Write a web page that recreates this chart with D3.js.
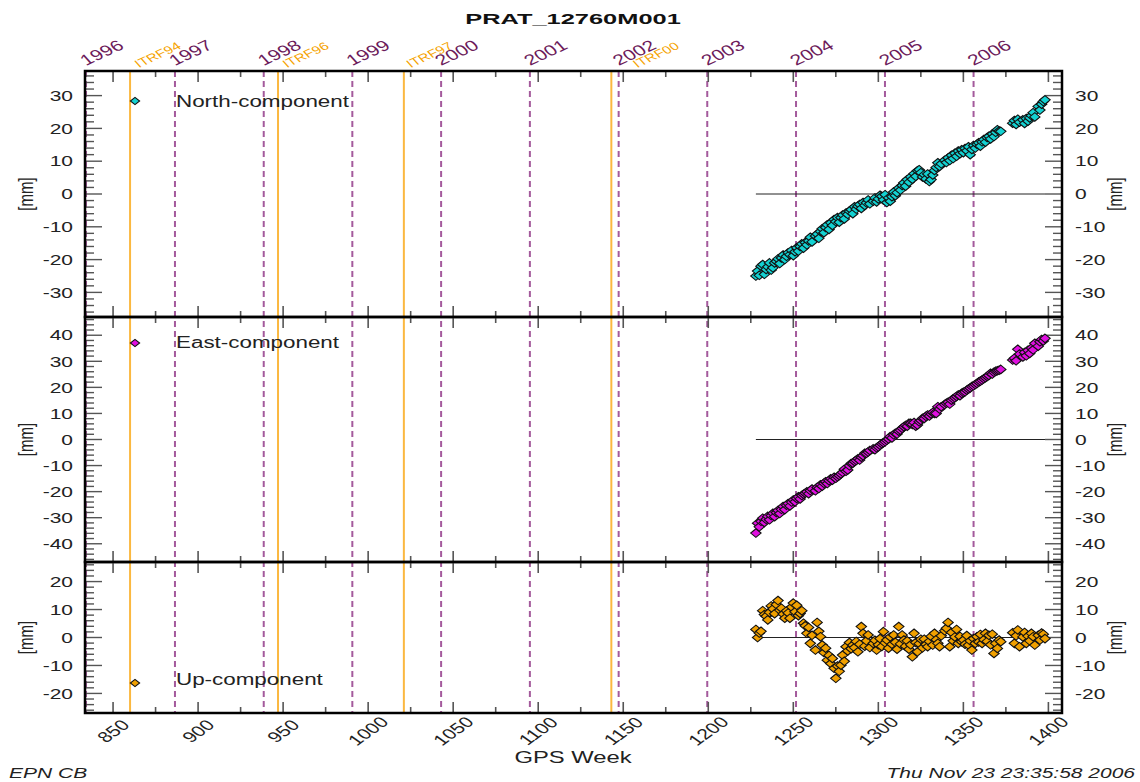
<!DOCTYPE html>
<html>
<head>
<meta charset="utf-8">
<script src="https://cdn.jsdelivr.net/npm/d3@7"></script>
<style>
  body { margin: 0; background: #fff; }
  svg { display: block; }
  text { font-family: "Liberation Sans", Arial, Helvetica, sans-serif; }
</style>
</head>
<body>
<div id="plot"></div>
<script>
// GPS weeks of the solutions (a few weeks missing, gap before the last block)
const weeks = [
  1228,1229,1230,1231,1232,1233,1234,1235,1236,1237,1238,1239,1240,1241,1242,1243,1244,
  1245,1246,1247,1248,1249,1250,1251,1252,1253,1254,1255,1256,1257,1258,1259,1260,1261,
  1263,1264,1265,1266,1267,1268,1269,1270,1271,1272,1273,1274,1275,1276,1277,1278,1279,
  1280,1281,1282,1283,1284,1285,1286,1287,1288,1289,1290,1291,1292,1293,1294,1295,
  1297,1298,1299,1300,1301,1302,1303,1304,1305,1306,1307,1308,1309,1310,1311,1312,1313,
  1314,1315,1316,1317,1318,1319,1320,1321,1322,1323,1324,1325,1326,1327,1328,1329,1330,
  1331,1332,1333,1334,1335,1336,1337,
  1339,1340,1341,1342,1343,1344,1345,1346,1347,1348,1349,1350,1351,1352,1353,1354,1355,
  1356,1357,1358,1359,1360,1361,1362,1363,1364,1365,1366,1367,1368,1369,1370,1371,1372,
  1379,1380,1381,1382,1383,1385,1386,1387,1388,1389,1390,1391,1392,1394,1395,1396,1397,1398
];

// North component [mm]
const north = [
  -25, -23.5, -24.8, -22, -21.5, -24.5, -23, -22.2, -21, -23.2,
  -22.5, -21, -20.5, -19.8, -21.2, -19.5, -18.6, -20, -19, -17.9,
  -18.5, -17.2, -18.8, -17.6, -16.4, -17.4, -16, -15.2, -16.5, -14.8,
  -15.5, -14.3, -13.2, -14.6, -12.8, -12.2, -13.5, -11.4, -10.6, -11.8,
  -10.2, -9.4, -10.8, -8.8, -9.6, -7.8, -8.4, -7.2, -8.6, -7.2,
  -6.4, -7.6, -5.8, -6.2, -5.2, -4.8, -6, -3.9, -4.6, -3.7,
  -3.2, -4.4, -2.6, -3.5, -2.7, -1.8, -3, -2.2, -1.2, -2.4,
  -1.5, -0.4, -0.7, -1.8, -0.2, -2.6, -1.2, -2.2, -0.8, 0.6,
  -0.5, 0.4, 1.8, 1.2, 2.6, 3.4, 2.4, 4.4, 3.6, 5.2,
  4.5, 6.2, 5.4, 7.1, 7.4, 6.5, 5.2, 5.9, 4.6, 6.1,
  3.8, 4.4, 5.8, 7.2, 8.1, 9.5, 8.4, 9.2, 10.3, 9.6,
  11, 10.2, 11.8, 10.8, 12.4, 11.5, 13.1, 12.3, 13.5, 12.6,
  13.9, 13.2, 14.4, 12, 13.6, 14.8, 14, 15.2, 15.6, 14.6,
  15.9, 16.6, 15.8, 17.2, 17.6, 16.8, 18.3, 17.5, 18.8, 19.6,
  19.2, 19.1,
  21.6, 22.4, 21.2, 22.8, 21.9, 22.6, 21.5, 23, 22.2, 23.2,
  23.9, 24.8, 23.5, 26.7, 25.6, 27.4, 28.2, 28.7
];

// East component [mm]
const east = [
  -35.9, -32.1, -33.5, -31.4, -30.2, -31.8, -30.6, -29.5, -30.8, -29.2,
  -28.3, -29.6, -28, -27.2, -28.4, -26.8, -25.7, -26.9, -25.2, -24.6,
  -25.5, -24, -23.2, -23.9, -22.6, -22, -22.8, -21.5, -21, -20.6,
  -20.1, -20.8, -19.6, -19, -19.7, -18.4, -18.8, -17.4, -17.9, -16.8,
  -16.2, -16.9, -15.8, -15.1, -15.6, -14.5, -14.9, -14.3, -13.8, -13.2,
  -12.6, -11.4, -12.2, -11.7, -10.1, -9.2, -9.1, -8.4, -8, -7.4,
  -7.9, -6.8, -6.2, -5.3, -5.3, -4.8, -4.2, -3.6, -3.9, -3.2,
  -2.8, -2.2, -1.6, -1.2, -0.8, -0.3, 0.2, 1.1, 0.6, 1.8,
  2.4, 2.1, 3.2, 3.6, 4.3, 4.9, 5.4, 5.1, 6.2, 6.2,
  5.8, 6.5, 5.1, 5.6, 6.8, 7.3, 8.1, 8.1, 8.9, 9.4,
  9, 9.8, 10.4, 10, 10, 12.6, 11.7, 12.6, 13.4, 13.9,
  14.3, 13.6, 15.1, 15.6, 16, 16.5, 17.1, 16.8, 17.7, 18.1,
  18.3, 18.9, 19.4, 19.8, 20.3, 20.6, 21.1, 21.5, 22.1, 22.4,
  22.8, 23.3, 23.7, 24.2, 24.6, 25.4, 25.1, 25.8, 26.2, 26.4,
  26.6, 26.9,
  30.5, 31.2, 30.2, 34.6, 32.8, 31.7, 33.4, 32.1, 34.2, 33,
  35.1, 34.4, 36.9, 35.8, 37.5, 38.4, 37.8, 38.8
];

// Up component [mm]
const up = [
  2.9, 0, 1.6, 2.2, 9.6, 8.2, 7.6, 6.3, 9, 11.3,
  10.2, 8.5, 11.8, 13.2, 9.8, 10.5, 8.4, 6.9, 9.5, 8.8,
  6.9, 10.9, 12.3, 9.2, 11.5, 7.8, 8.6, 9.6, 5.1, 4.2,
  1.5, 3.6, -2.1, 0.8, -4.5, 5.4, 2.2, 0.3, -2.7, -5.4,
  -3.8, -8.1, -6.4, -9.3, -7.5, -11, -14.6, -10.2, -12.1, -9.9,
  -6.3, -8.5, -3.3, -4.8, -1.8, -4, -2.7, -3.6, -1.4, -5.1,
  -2.4, 3.9, 1.5, -3.1, -1.2, 0.9, -3.6, -2.1, -1, -4.5,
  -2.6, -0.4, -3.2, 2.1, -1.9, -0.9, -3.8, 0.2, -2.4, 0.9,
  -1.7, -4.2, 3.9, -2.3, 0.9, -0.9, -3.1, -1.2, -4.2, -2.6,
  -6.9, 1.5, -1.8, -5.1, -2.2, -0.6, -3.7, -0.6, -2.5, -3.3,
  -1.4, 0.4, -2.7, 1.5, -0.8, -2.1, -3.3, 0.6, 2.4, 3.3,
  5.4, -3.3, 1.8, -1.2, 0.2, 2.9, -2.1, 0.4, -1.5, -0.9,
  -2.4, 0.7, -2.7, -1.2, -4.5, -0.4, -2.1, 0.3, -1.6, 1.1,
  -2.1, -0.8, 1.5, -1.4, 0.8, -2.6, 1.2, -5.7, -2.1, -3.9,
  -0.9, -1.5,
  1.7, -2.1, 0.6, 2.7, -3.3, 0.2, 1.8, -2.1, 0.5, -1.2,
  1.5, 0.3, -2.7, 0.8, -0.9, 1.6, 1.2, -0.4
];

// year starts (GPS week) and reference frame changes
const years = ["1996","1997","1998","1999","2000","2001","2002","2003","2004","2005","2006"];
const yearWeeks = [834.1, 886.4, 938.6, 990.7, 1042.9, 1095.1, 1147.3, 1199.4, 1251.6, 1303.9, 1356.0];
const itrfNames = ["ITRF94", "ITRF96", "ITRF97", "ITRF00"];
const itrfWeeks = [860, 947, 1021, 1143];

const xTickLabels = [850, 900, 950, 1000, 1050, 1100, 1150, 1200, 1250, 1300, 1350, 1400];
const northTicks = [-30, -20, -10, 0, 10, 20, 30];
const eastTicks = [-40, -30, -20, -10, 0, 10, 20, 30, 40];
const upTicks = [-20, -10, 0, 10, 20];

// layout
const width = 1140, height = 782;
const left = 85, right = 1062;
const stretch = 1.4; // the original picture is widened horizontally
const itrfLabelDx = [9, 9, 7, 26];
const textColor = "#222";
const tickColor = "#555";

const svg = d3.select("#plot").append("svg")
  .attr("width", width)
  .attr("height", height);

svg.append("rect").attr("width", width).attr("height", height).attr("fill", "#fff");

const x = d3.scaleLinear().domain([833.5, 1408]).range([left, right]);

const panels = [
  { name: "North-component", values: north, color: "#14d2d2", top: 71, bottom: 317, dom: [-37.5, 37.5], ticks: northTicks, legendDy: 30, textDy: 6 },
  { name: "East-component", values: east, color: "#e010e0", top: 317, bottom: 562, dom: [-47, 47], ticks: eastTicks, legendDy: 26, textDy: 5 },
  { name: "Up-component", values: up, color: "#f0a000", top: 562, bottom: 713, dom: [-27, 27], ticks: upTicks, legendDy: 121, textDy: 2 }
];

// stretched text helper
function stext(g, px, py, str, opts) {
  const t = g.append("text")
    .attr("transform", `translate(${px},${py}) scale(${stretch},1)` + (opts.rotate ? ` rotate(${opts.rotate})` : ""))
    .attr("font-size", opts.size || 15)
    .attr("fill", opts.fill || textColor)
    .attr("text-anchor", opts.anchor || "start")
    .text(str);
  if (opts.bold) t.attr("font-weight", "bold");
  if (opts.italic) t.attr("font-style", "italic");
  if (opts.dy) t.attr("dy", opts.dy);
  if (opts.textLength) t.attr("textLength", opts.textLength).attr("lengthAdjust", "spacingAndGlyphs");
  return t;
}

// vertical reference lines (years dashed, frame changes orange)
const plotTop = panels[0].top, plotBottom = panels[2].bottom;

svg.append("g").selectAll("line")
  .data(itrfWeeks)
  .enter().append("line")
  .attr("x1", d => x(d)).attr("x2", d => x(d))
  .attr("y1", plotTop).attr("y2", plotBottom)
  .attr("stroke", "#fbb840")
  .attr("stroke-width", 2);

svg.append("g").selectAll("line")
  .data(yearWeeks)
  .enter().append("line")
  .attr("x1", d => x(d)).attr("x2", d => x(d))
  .attr("y1", plotTop).attr("y2", plotBottom)
  .attr("stroke", "#a45a9c")
  .attr("stroke-width", 2)
  .attr("stroke-dasharray", "6,4");

// year labels on top
const topLabels = svg.append("g");
years.forEach((yr, i) => {
  stext(topLabels, x(yearWeeks[i]), 66, yr, { size: 15, fill: "#6c1a5a", rotate: -33 });
});
itrfNames.forEach((nm, i) => {
  stext(topLabels, x(itrfWeeks[i]) + itrfLabelDx[i], 68, nm, { size: 11, fill: "#f5a300", rotate: -33 });
});

// panels
panels.forEach(p => {
  const y = d3.scaleLinear().domain(p.dom).range([p.bottom, p.top]);
  const g = svg.append("g");

  // x ticks along top and bottom edge (inward)
  const xMinor = d3.range(850, 1401, 25);
  [[p.top, 1], [p.bottom, -1]].forEach(([yy, dir]) => {
    g.append("g").selectAll("line")
      .data(xMinor)
      .enter().append("line")
      .attr("x1", d => x(d)).attr("x2", d => x(d))
      .attr("y1", yy)
      .attr("y2", d => yy + dir * (d % 50 === 0 ? 11 : 6))
      .attr("stroke", tickColor)
      .attr("stroke-width", 1.6);
  });

  // y ticks left and right (inward), minor every 2 mm
  const yMinor = d3.range(Math.ceil(p.dom[0] / 2) * 2, p.dom[1], 2);
  [[left, 1], [right, -1]].forEach(([xx, dir]) => {
    g.append("g").selectAll("line")
      .data(yMinor)
      .enter().append("line")
      .attr("x1", xx)
      .attr("x2", d => xx + dir * (d % 10 === 0 ? 17 : 9))
      .attr("y1", d => y(d)).attr("y2", d => y(d))
      .attr("stroke", tickColor)
      .attr("stroke-width", 1.4);
  });

  // y labels
  p.ticks.forEach(t => {
    stext(g, left - 12, y(t), t, { size: 15, anchor: "end", dy: "0.35em" });
    stext(g, right + 13, y(t), t, { size: 15, anchor: "start", dy: "0.35em" });
  });
  stext(g, 33, y(0), "[mm]", { size: 15, anchor: "middle", rotate: -90 });
  stext(g, 1122, y(0), "[mm]", { size: 15, anchor: "middle", rotate: -90 });

  // zero line across the data span
  const ext = d3.extent(weeks);
  g.append("line")
    .attr("x1", x(ext[0])).attr("x2", x(ext[1]))
    .attr("y1", y(0)).attr("y2", y(0))
    .attr("stroke", "#222")
    .attr("stroke-width", 1);

  // diamonds
  const diamond = "M0,-4.3L5.2,0L0,4.3L-5.2,0Z";
  g.append("g").selectAll("path")
    .data(weeks.map((w, i) => [w, p.values[i]]))
    .enter().append("path")
    .attr("d", diamond)
    .attr("transform", d => `translate(${x(d[0])},${y(d[1])})`)
    .attr("fill", p.color)
    .attr("stroke", "#111")
    .attr("stroke-width", 1.1);

  // legend
  const ly = p.top + p.legendDy;
  g.append("path")
    .attr("d", "M0,-3.6L4.6,0L0,3.6L-4.6,0Z")
    .attr("transform", `translate(135,${ly})`)
    .attr("fill", p.color)
    .attr("stroke", "#111")
    .attr("stroke-width", 1.1);
  stext(g, 176, ly + p.textDy, p.name, { size: 16 });

  // panel frame
  g.append("rect")
    .attr("x", left).attr("y", p.top)
    .attr("width", right - left).attr("height", p.bottom - p.top)
    .attr("fill", "none")
    .attr("stroke", "#000")
    .attr("stroke-width", 2.5);
});

// bottom tick labels
xTickLabels.forEach(t => {
  stext(svg, x(t), 731, t, { size: 15, anchor: "middle", rotate: -45, dy: "0.35em" });
});

// titles
stext(svg, 573, 24, "PRAT_12760M001", { size: 15, bold: true, anchor: "middle", fill: "#111", textLength: 154 });
stext(svg, 573, 763, "GPS Week", { size: 17, anchor: "middle" });
stext(svg, 9, 778, "EPN CB", { size: 15, italic: true });
stext(svg, 1135, 778, "Thu Nov 23 23:35:58 2006", { size: 15, italic: true, anchor: "end" });
</script>
</body>
</html>
